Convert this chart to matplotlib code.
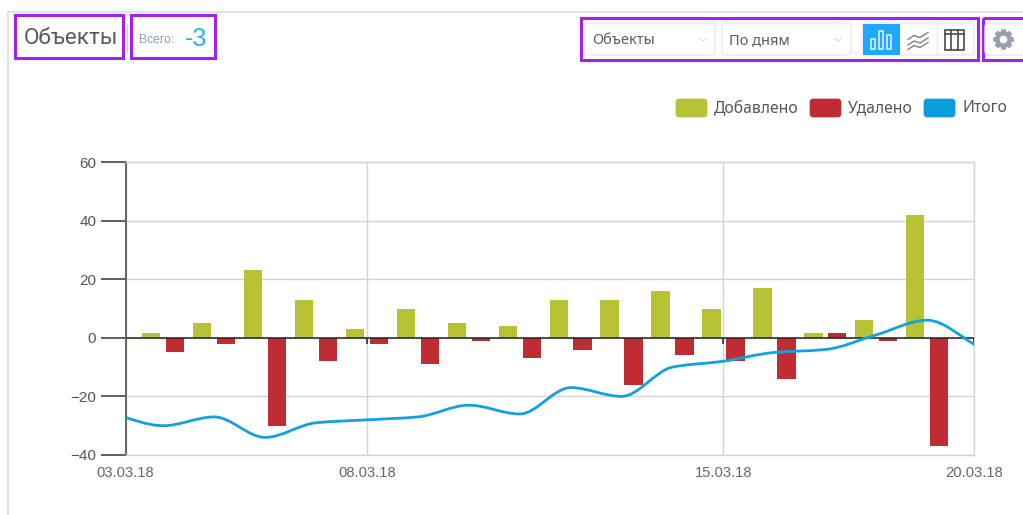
import numpy as np
import matplotlib
matplotlib.use("Agg")
import matplotlib.pyplot as plt
from matplotlib.patches import FancyBboxPatch, Rectangle, PathPatch
from matplotlib.path import Path

plt.rcParams["font.family"] = ["Noto Sans", "DejaVu Sans"]

# данные
days = np.arange(4, 20)
added = [1.5, 5, 23, 13, 3, 10, 5, 4, 13, 13, 16, 10, 17, 1.5, 6, 42]
removed = [-5, -2, -30, -8, -2, -9, -1, -7, -4, -16, -6, -8, -14, 1.5, -1, -37]
total_days = np.arange(3, 21)
total = [-26, -30, -27, -34, -29, -28, -27, -23, -26, -17, -20, -10, -8, -5, -4, 1, 6, -3]
y_ticks = [-40, -20, 0, 20, 40, 60]
x_ticks = [3.258, 8, 15, 19.92]
x_labels = ["03.03.18", "08.03.18", "15.03.18", "20.03.18"]
legend_items = [("Добавлено", "#b7c234"), ("Удалено", "#c02c33"), ("Итого", "#0b9ddb")]

W, H = 1023, 515
fig = plt.figure(figsize=(W / 100, H / 100), dpi=100, facecolor="white")
ax = fig.add_axes([125.5 / W, 1 - 455 / H, (974 - 125.5) / W, (455 - 162) / H])


def smooth_path(x, y):
    # монотонная кубическая кривая через точки
    x = np.array(x, float)
    y = np.array(y, float)
    s = np.diff(y) / np.diff(x)
    t = np.zeros(len(x))
    for i in range(1, len(x) - 1):
        if s[i - 1] * s[i] > 0:
            t[i] = 2 * s[i - 1] * s[i] / (s[i - 1] + s[i])
    t[0] = s[0]
    t[-1] = s[-1]
    verts = [(x[0], y[0])]
    codes = [Path.MOVETO]
    for i in range(len(x) - 1):
        h = (x[i + 1] - x[i]) / 3
        verts += [(x[i] + h, y[i] + t[i] * h), (x[i + 1] - h, y[i + 1] - t[i + 1] * h), (x[i + 1], y[i + 1])]
        codes += [Path.CURVE4] * 3
    return Path(verts, codes)


grid_c = "#d4d4d4"
ax.set_axisbelow(True)
ax.bar(days - 0.235, added, width=0.36, color=legend_items[0][1], zorder=3)
ax.bar(days + 0.235, removed, width=0.36, color=legend_items[1][1], zorder=3)
ax.add_patch(PathPatch(smooth_path(total_days, total), fill=False, edgecolor="#14a0de", lw=2.0, zorder=5))

ax.set_xlim(x_ticks[0], x_ticks[-1])
ax.set_ylim(-40, 60)
ax.set_yticks(y_ticks)
ax.set_yticklabels(["\u221240", "\u221220", "0", "20", "40", "60"], fontsize=11, color="#555555", family="Liberation Sans")
ax.set_xticks(x_ticks)
ax.set_xticklabels(x_labels, fontsize=10.6, color="#666666", family="Liberation Sans")
ax.tick_params(axis="y", length=18, width=1.1, color="#333333", pad=3)
ax.tick_params(axis="x", length=0, pad=8)
ax.grid(True, color=grid_c, lw=1.0)
ax.spines["top"].set_color(grid_c)
ax.spines["top"].set_linewidth(1.0)
ax.spines["right"].set_color(grid_c)
ax.spines["right"].set_linewidth(1.0)
ax.spines["bottom"].set_color(grid_c)
ax.spines["bottom"].set_linewidth(1.0)
ax.spines["left"].set_color("#666666")
ax.spines["left"].set_linewidth(1.4)
ax.axhline(0, color="#222222", lw=1.1, zorder=4)
ax.vlines([8, 15, x_ticks[-1]], -2, 0, color="#222222", lw=1.1, zorder=4)

# интерфейс вокруг графика, координаты в пикселях
ui = fig.add_axes([0, 0, 1, 1], facecolor="none")
ui.set_xlim(0, W)
ui.set_ylim(H, 0)
ui.axis("off")


def box(x0, y0, x1, y1, fc="white", ec="#e6ecf4", lw=1.0, r=4):
    ui.add_patch(FancyBboxPatch((x0 + r, y0 + r), x1 - x0 - 2 * r, y1 - y0 - 2 * r,
                                boxstyle=f"round,pad={r},rounding_size={r}", fc=fc, ec=ec, lw=lw))


def gear(cx, cy, r, teeth=8):
    # значок настроек: зубчатый контур с круглым отверстием
    pts = []
    for i in range(teeth):
        a = 2 * np.pi * i / teeth
        w = np.pi / teeth
        for da, rr in [(-w * 0.95, r * 0.76), (-w * 0.5, r), (w * 0.5, r), (w * 0.95, r * 0.76)]:
            pts.append((cx + rr * np.cos(a + da), cy + rr * np.sin(a + da)))
    hole = Path.circle((cx, cy), r * 0.36)
    verts = pts + [pts[0]] + list(hole.vertices[::-1])
    codes = [Path.MOVETO] + [Path.LINETO] * (len(pts) - 1) + [Path.CLOSEPOLY] + list(hole.codes)
    ui.add_patch(PathPatch(Path(verts, codes), fc="#9a9fae", ec="none"))


ui.plot([8, W], [12, 12], color="#dddddd", lw=1.2)
ui.plot([8, 8], [12, H], color="#dddddd", lw=1.2)

purple = "#a021f0"
for x0, y0, x1, y1 in [(15, 15, 123, 58), (131, 15, 215, 58), (581, 18, 978, 60), (983, 18, 1030, 60)]:
    ui.add_patch(Rectangle((x0, y0), x1 - x0, y1 - y0, fc="none", ec=purple, lw=2.2))

ui.text(24, 38.5, "Объекты", fontsize=16.2, color="#5a5a5a", va="center", family="Roboto")
ui.plot([127, 127], [25, 52], color="#c9ced6", lw=1)
ui.text(139, 40, "Всего:", fontsize=8.7, color="#8f9db8", va="center", family="Liberation Sans")
ui.text(184.5, 39.5, "-3", fontsize=18, color="#2aaefc", va="center", family="Liberation Sans")

box(585, 23, 715, 55)
box(722, 23, 851, 55)
ui.text(592, 40.5, "Объекты", fontsize=10.5, color="#5c5c5c", va="center")
ui.text(729, 40.5, "По дням", fontsize=10.5, color="#5c5c5c", va="center")
for cx in [703, 838]:
    ui.plot([cx - 3, cx, cx + 3], [38.5, 41, 38.5], color="#d3d9e2", lw=0.8)

box(862, 23, 974, 55)
ui.add_patch(Rectangle((862.5, 23.5), 37, 31, fc="#1fa8fd", ec="none"))
ui.plot([936.5, 936.5], [24, 54], color="#e8edf3", lw=1)
for x0, top in [(870.5, 39), (878.5, 30.5), (886.5, 34.5)]:
    ui.add_patch(Rectangle((x0, top), 4.5, 49 - top, fc="none", ec="#d8f0ff", lw=1.2))
for dy in [0, 5.5, 10]:
    ui.plot([908, 914, 920, 928], np.array([39.5, 35.5, 37.5, 32.5]) + dy, color="#808080", lw=1)
ui.add_patch(Rectangle((944.5, 30), 19.5, 19.5, fc="none", ec="#4a4a4a", lw=1.2))
ui.plot([944.5, 964], [33.5, 33.5], color="#4a4a4a", lw=1.2)
for x0 in [951, 957.5]:
    ui.plot([x0, x0], [30, 49.5], color="#4a4a4a", lw=1.2)

box(985, 23, 1035, 55)
gear(1003.5, 39.5, 10.5)

x_pos = [676, 810, 924]
for (name, c), x0 in zip(legend_items, x_pos):
    box(x0, 99, x0 + 31, 117, fc=c, ec=c, lw=0.5, r=3)
    ui.text(x0 + 38, 108.5, name, fontsize=11.3, color="#555555", va="center")

fig.savefig("out.png", dpi=100)
